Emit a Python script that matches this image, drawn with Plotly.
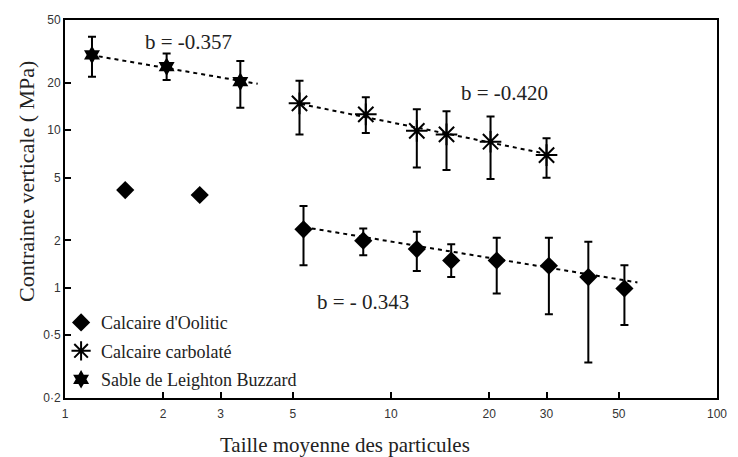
import plotly.graph_objects as go

# Calcaire d'Oolitic (diamonds)
ool_x = [1.53, 2.59, 5.39, 8.22, 12.0, 15.3, 21.1, 30.5, 40.3, 52.0]
ool_y = [4.17, 3.88, 2.35, 1.99, 1.76, 1.49, 1.49, 1.38, 1.17, 0.99]
ool_hi = [None, None, 3.30, 2.38, 2.27, 1.89, 2.08, 2.08, 1.96, 1.39]
ool_lo = [None, None, 1.39, 1.61, 1.28, 1.17, 0.92, 0.68, 0.336, 0.58]

# Calcaire carbolaté (asterisks)
carb_x = [5.24, 8.37, 12.0, 14.8, 20.2, 30.0]
carb_y = [14.8, 12.6, 9.9, 9.4, 8.45, 6.95]
carb_hi = [20.6, 16.2, 13.6, 13.2, 12.2, 8.9]
carb_lo = [9.4, 9.6, 5.8, 5.6, 4.9, 5.0]

# Sable de Leighton Buzzard (six-pointed stars)
sable_x = [1.21, 2.05, 3.45]
sable_y = [30.0, 25.3, 20.3]
sable_hi = [39.2, 30.7, 27.5]
sable_lo = [21.8, 20.8, 13.9]

# Power-law fits y = a * x^b and the x span each one covers
fit_sable = dict(a=32.0, b=-0.357, x=[1.2, 3.9])
fit_carb = dict(a=29.5, b=-0.420, x=[5.3, 30.5])
fit_ool = dict(a=4.33, b=-0.343, x=[5.4, 57.0])

x_ticks = [1, 2, 3, 5, 10, 20, 30, 50, 100]
y_ticks = [0.2, 0.5, 1, 2, 5, 10, 20, 50]
y_ticktext = ["0·2", "0·5", "1", "2", "5", "10", "20", "50"]

SERIF = "Liberation Serif"
SANS = "Liberation Sans"


def err(y, hi, lo):
    plus = [None if h is None else h - v for v, h in zip(y, hi)]
    minus = [None if l is None else v - l for v, l in zip(y, lo)]
    return dict(type="data", symmetric=False, array=plus, arrayminus=minus,
                color="black", thickness=2, width=4)


fig = go.Figure()

for fit in (fit_sable, fit_carb, fit_ool):
    fig.add_trace(go.Scatter(
        x=fit["x"], y=[fit["a"] * v ** fit["b"] for v in fit["x"]],
        mode="lines", line=dict(color="black", width=2, dash="4px,4px"),
        showlegend=False, hoverinfo="skip"))

fig.add_trace(go.Scatter(
    x=ool_x, y=ool_y, mode="markers", name="Calcaire d'Oolitic",
    legendgroup="a",
    marker=dict(symbol="diamond", size=14, color="black"),
    error_y=err(ool_y, ool_hi, ool_lo)))

fig.add_trace(go.Scatter(
    x=carb_x, y=carb_y, mode="markers", name="Calcaire carbolaté",
    legendgroup="b",
    marker=dict(symbol="asterisk-open", size=18, color="black",
                line=dict(color="black", width=2)),
    error_y=err(carb_y, carb_hi, carb_lo)))

fig.add_trace(go.Scatter(
    x=sable_x, y=sable_y, mode="markers", name="Sable de Leighton Buzzard",
    legendgroup="c",
    marker=dict(symbol="hexagram", size=14, color="black"),
    error_y=err(sable_y, sable_hi, sable_lo)))

# Slope labels, positioned in log10 axis units
annot_font = dict(family=SERIF, size=21, color="#222")
fig.add_annotation(x=0.378, y=1.559, xref="x", yref="y", text="b = -0.357",
                   showarrow=False, font=annot_font)
fig.add_annotation(x=1.347, y=1.236, xref="x", yref="y", text="b = -0.420",
                   showarrow=False, font=annot_font)
fig.add_annotation(x=0.915, y=-0.090, xref="x", yref="y", text="b = - 0.343",
                   showarrow=False, font=annot_font)

# Axis titles
fig.add_annotation(x=0.43, y=-0.125, xref="paper", yref="paper",
                   text="Taille moyenne des particules", showarrow=False,
                   font=dict(family=SERIF, size=21, color="#222"),
                   yanchor="middle")
fig.add_annotation(x=-0.060, y=0.574, xref="paper", yref="paper",
                   text="Contrainte verticale ( MPa)", showarrow=False,
                   textangle=-90, font=dict(family=SERIF, size=22, color="#222"),
                   xanchor="center", yanchor="middle")

axis_common = dict(
    showline=True, linecolor="black", linewidth=2, mirror=True,
    ticks="inside", ticklen=6, tickwidth=2, tickcolor="black",
    showgrid=False, zeroline=False,
    tickfont=dict(family=SANS, size=12, color="#333"),
)

fig.update_xaxes(type="log", range=[0, 2], tickvals=x_ticks,
                 ticktext=[str(v) for v in x_ticks], ticklabelstandoff=4,
                 **axis_common)
fig.update_yaxes(type="log", range=[-0.69897, 1.69897], tickvals=y_ticks,
                 ticktext=y_ticktext, **axis_common)

fig.update_layout(
    width=738, height=457,
    margin=dict(l=65, r=11, t=20, b=59),
    paper_bgcolor="white", plot_bgcolor="white",
    showlegend=True,
    legend=dict(x=-0.006, y=0.248, xanchor="left", yanchor="top",
                bgcolor="rgba(0,0,0,0)", tracegroupgap=2,
                font=dict(family=SERIF, size=18, color="#222")),
)

fig.write_html("out.html")
